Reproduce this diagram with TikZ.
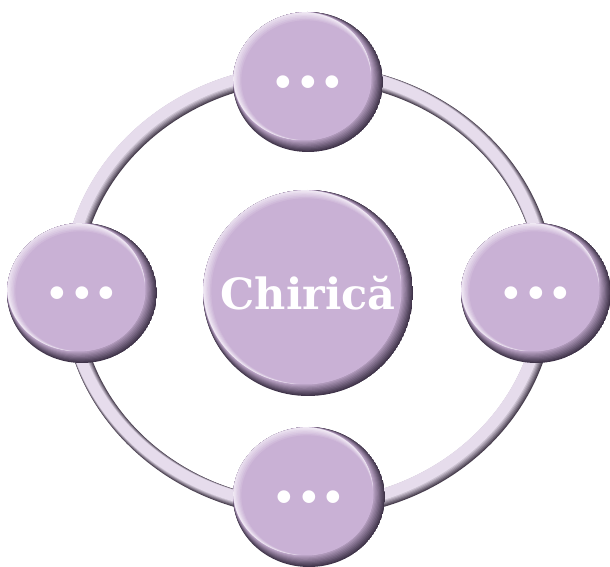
\documentclass[tikz,border=0pt]{standalone}
\usepackage{fontspec}
\setmainfont{DejaVu Serif}
\usetikzlibrary{shapes.geometric}
\definecolor{bubmain}{HTML}{C9B1D5}
\definecolor{bubdark}{HTML}{40344A}
\definecolor{bublight}{HTML}{F0E9F4}
\definecolor{ringlight}{HTML}{E6DCEC}
\definecolor{ringdark}{HTML}{4A4050}
\tikzset{
  bubble/.style={ellipse,inner sep=0pt,text=white},
  hubtext/.style={font=\bfseries\fontsize{43}{50}\selectfont},
  dottext/.style={font=\bfseries\fontsize{68}{78}\selectfont}
}
\newcommand{\tridot}{.\hspace{0.5pt}.\hspace{0.5pt}.}

\begin{document}
\begin{tikzpicture}[x=1pt,y=1pt]
  \useasboundingbox (0,0) rectangle (610,567);
  \coordinate (ringc) at (309,276);
  % ring: dark side first, lighter strokes on top
  \foreach \i in {0,...,6}{
    \pgfmathtruncatemacro\p{100*\i/6}
    \pgfmathsetmacro\w{17-1*\i}
    \draw[ringlight!\p!ringdark,line width=\w pt]
      ([shift={(-0.5*\i,0.5*\i)}]ringc) ellipse [x radius=238,y radius=218];
  }
  % bubbles
  \foreach \nm/\cx/\cy/\rx/\ry/\txt/\sty in {
      hub/308/274/105/103/Chirică/hubtext,
      top/308/485/75/70/\tridot/dottext,
      left/82/274/75/70/\tridot/dottext,
      right/536/274/75/70/\tridot/dottext,
      bottom/309/70/76/70/\tridot/dottext}{
    \begin{scope}
      \clip (\cx,\cy) ellipse [x radius=\rx,y radius=\ry];
      \fill[bubdark] (\cx,\cy) ellipse [x radius=\rx,y radius=\ry];
      \foreach \i in {1,...,10}{
        \pgfmathtruncatemacro\p{10*\i}
        \fill[bubmain!\p!bubdark] (\cx-0.6*\i,\cy+0.6*\i)
          ellipse [x radius=\rx-0.6*\i,y radius=\ry-0.6*\i];
      }
      \foreach \j in {0,...,6}{
        \pgfmathtruncatemacro\p{100*\j/6}
        \fill[bubmain!\p!bublight] (\cx-6+0.7*\j,\cy+6-0.7*\j)
          ellipse [x radius=\rx-6-0.7*\j,y radius=\ry-6-0.7*\j];
      }
    \end{scope}
    \node[bubble,\sty,minimum width={2*\rx*1pt},minimum height={2*\ry*1pt}]
      (\nm) at (\cx,\cy) {\txt};
  }
\end{tikzpicture}
\end{document}
